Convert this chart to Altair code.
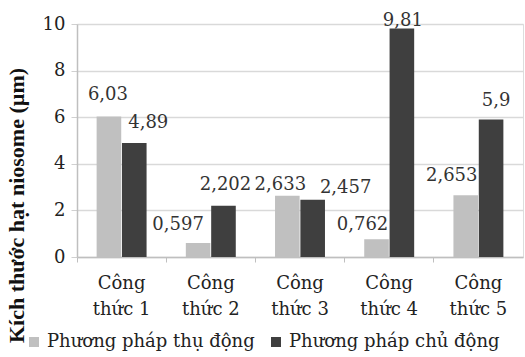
import altair as alt
import pandas as pd

# Particle size of niosomes for each formulation, by preparation method
formulas = ["Công thức 1", "Công thức 2", "Công thức 3", "Công thức 4", "Công thức 5"]
methods = ["Phương pháp thụ động", "Phương pháp chủ động"]
passive = [6.03, 0.597, 2.633, 0.762, 2.653]
active = [4.89, 2.202, 2.457, 9.81, 5.9]
y_ticks = [0, 2, 4, 6, 8, 10]

# Styling
colors = ["#c0c0c0", "#3f3f3f"]
# hand-placed value labels: pixel nudge (dx, dy) from the top centre of each bar
label_nudge_passive = [(-1, -17), (-20, -13), (-7, -6), (-14, -9), (-14, -14)]
label_nudge_active = [(14, -15), (2, -16), (33, -7), (1, -2), (5, -14)]

rows = []
for i, (f, p, a) in enumerate(zip(formulas, passive, active)):
    rows.append({"idx": 2 * i, "formula": f, "method": methods[0], "size": p})
    rows.append({"idx": 2 * i + 1, "formula": f, "method": methods[1], "size": a})
df = pd.DataFrame(rows)
df["label"] = df["size"].map(lambda v: str(v).replace(".", ","))

nudges = []
for np_, na_ in zip(label_nudge_passive, label_nudge_active):
    nudges += [np_, na_]

SERIF = "DejaVu Serif"
PAD_INNER = 0.44
PAD_OUTER = 0.22

x_enc = alt.X(
    "formula:N",
    sort=formulas,
    scale=alt.Scale(paddingInner=PAD_INNER, paddingOuter=PAD_OUTER),
    axis=alt.Axis(
        title=None,
        # ticks sit on the boundaries between categories
        bandPosition=-(PAD_INNER / 2) / (1 - PAD_INNER),
        labelAngle=0,
        labelFont=SERIF,
        labelFontSize=18,
        labelColor="#222222",
        labelLineHeight=26,
        labelPadding=12,
        labelExpr="[substring(datum.label, 0, indexof(datum.label, ' ')), "
                  "substring(datum.label, indexof(datum.label, ' ') + 1)]",
        tickColor="#bfbfbf",
        tickSize=5,
        domainColor="#bfbfbf",
        domainWidth=1.5,
        grid=False,
    ),
)
xoff_enc = alt.XOffset("method:N", sort=methods, scale=alt.Scale(paddingInner=0.03))
y_scale = alt.Scale(domain=[0, 10], nice=False)

bars = alt.Chart(df).mark_bar().encode(
    x=x_enc,
    xOffset=xoff_enc,
    y=alt.Y(
        "size:Q",
        scale=y_scale,
        axis=alt.Axis(
            values=y_ticks,
            title="Kích thước hạt niosome (µm)",
            titleFont="Liberation Serif",
            titleFontWeight="bold",
            titleFontSize=22,
            titleColor="#111111",
            titleX=-49,
            titleY=181,
            labelFont=SERIF,
            labelFontSize=18,
            labelColor="#222222",
            labelPadding=6,
            tickColor="#d0d0d0",
            tickSize=6,
            domainColor="#bfbfbf",
            domainWidth=1.5,
            gridColor="#d9d9d9",
            gridWidth=1.5,
        ),
    ),
    color=alt.Color(
        "method:N",
        sort=methods,
        scale=alt.Scale(domain=methods, range=colors),
        title=None,
        legend=alt.Legend(
            orient="none",
            legendX=-52,
            legendY=309,
            direction="horizontal",
            symbolType="square",
            symbolSize=100,
            symbolStrokeWidth=0,
            labelFont=SERIF,
            labelFontSize=18,
            labelColor="#222222",
            labelOffset=4,
            columnPadding=12,
            labelLimit=400,
        ),
    ),
)

# one text layer per value label so each can carry its own nudge
label_layers = []
for idx, (dx, dy) in enumerate(nudges):
    label_layers.append(
        alt.Chart(df)
        .transform_filter(alt.datum.idx == idx)
        .mark_text(
            font=SERIF, fontSize=18, color="#333333",
            baseline="alphabetic", dx=dx, dy=dy,
        )
        .encode(
            x=alt.X("formula:N", sort=formulas),
            xOffset=xoff_enc,
            y=alt.Y("size:Q", scale=y_scale),
            text="label:N",
        )
    )

chart = (
    alt.layer(bars, *label_layers)
    .properties(
        width=446,
        height=233,
        padding={"left": 77, "top": 24, "right": 2, "bottom": 100},
        autosize=alt.AutoSizeParams(type="none"),
    )
    .configure_view(stroke=None)
    .configure(background="white")
)

chart.save("out.html", embed_options={"renderer": "svg", "actions": False})
